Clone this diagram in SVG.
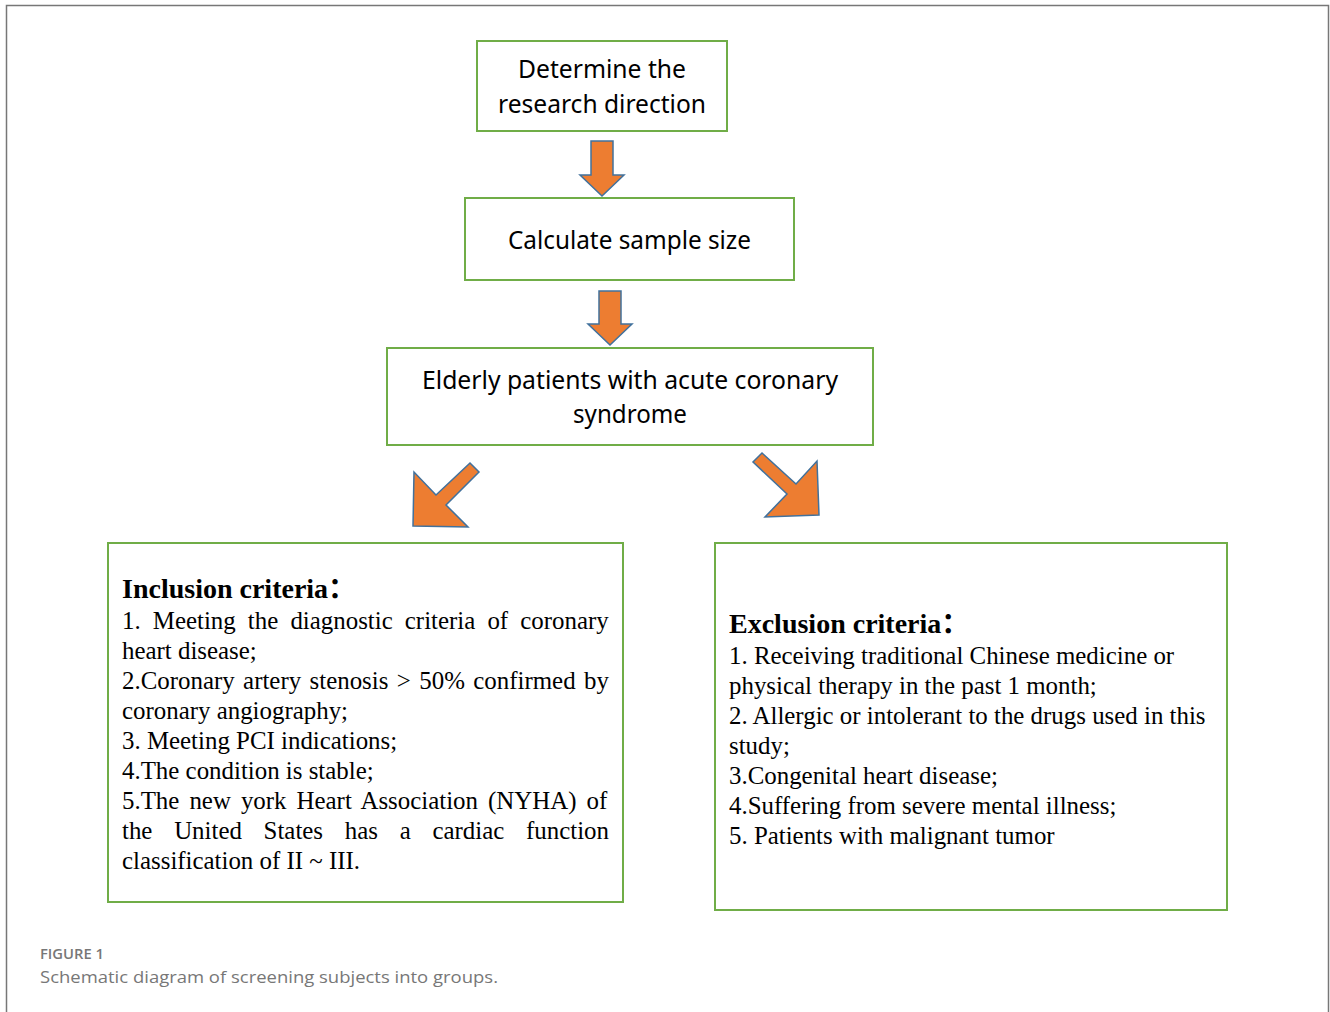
<svg xmlns="http://www.w3.org/2000/svg" width="1330" height="1012" viewBox="0 0 1330 1012">
<style>
.box{fill:#fff;stroke:#70ad47;stroke-width:2}
.sans{font-family:"Noto Sans","Open Sans",sans-serif;font-size:25px;fill:#000}
.ser{font-family:"Liberation Serif","Times New Roman",serif;font-size:24.9px;fill:#000}
.ttl{font-family:"Liberation Serif","Times New Roman","Noto Sans CJK SC",serif;font-size:28px;font-weight:bold;fill:#000}
.arr{fill:#ed7d31;stroke:#41719c;stroke-width:1.5;stroke-linejoin:miter}
.cap1{font-family:"Open Sans","Noto Sans",sans-serif;font-size:14px;font-weight:600;fill:#777}
.cap2{font-family:"Open Sans","Noto Sans",sans-serif;font-size:17px;fill:#777}
</style>
<rect width="1330" height="1012" fill="#fff"/>
<path d="M6.5 1012 V5.5 H1328.5 V1012" fill="none" stroke="#777" stroke-width="1.5"/>

<g id="n1">
<rect class="box" x="477" y="41" width="250" height="90"/>
<text class="sans" x="602" y="78" text-anchor="middle" textLength="168" lengthAdjust="spacingAndGlyphs">Determine the</text>
<text class="sans" x="602" y="113" text-anchor="middle" textLength="208" lengthAdjust="spacingAndGlyphs">research direction</text>
</g>
<g id="n2">
<rect class="box" x="465" y="198" width="329" height="82"/>
<text class="sans" x="629.5" y="249" text-anchor="middle" textLength="243" lengthAdjust="spacingAndGlyphs">Calculate sample size</text>
</g>
<g id="n3">
<rect class="box" x="387" y="348" width="486" height="97"/>
<text class="sans" x="630" y="389" text-anchor="middle" textLength="416" lengthAdjust="spacingAndGlyphs">Elderly patients with acute coronary</text>
<text class="sans" x="630" y="423" text-anchor="middle" textLength="114" lengthAdjust="spacingAndGlyphs">syndrome</text>
</g>
<g id="n4">
<rect class="box" x="108" y="543" width="515" height="359"/>
<text class="ttl" x="122" y="598">Inclusion criteria：</text>
<text class="ser" x="122" y="629" word-spacing="5.9">1. Meeting the diagnostic criteria of coronary</text>
<text class="ser" x="122" y="659">heart disease;</text>
<text class="ser" x="122" y="689" word-spacing="2.2">2.Coronary artery stenosis &gt; 50% confirmed by</text>
<text class="ser" x="122" y="719">coronary angiography;</text>
<text class="ser" x="122" y="749">3. Meeting PCI indications;</text>
<text class="ser" x="122" y="779">4.The condition is stable;</text>
<text class="ser" x="122" y="809" word-spacing="3.8">5.The new york Heart Association (NYHA) of</text>
<text class="ser" x="122" y="839" word-spacing="15.5">the United States has a cardiac function</text>
<text class="ser" x="122" y="869">classification of II ~ III.</text>
</g>
<g id="n5">
<rect class="box" x="715" y="543" width="512" height="367"/>
<text class="ttl" x="729" y="633">Exclusion criteria：</text>
<text class="ser" x="729" y="664">1. Receiving traditional Chinese medicine or</text>
<text class="ser" x="729" y="694">physical therapy in the past 1 month;</text>
<text class="ser" x="729" y="724">2. Allergic or intolerant to the drugs used in this</text>
<text class="ser" x="729" y="754">study;</text>
<text class="ser" x="729" y="784">3.Congenital heart disease;</text>
<text class="ser" x="729" y="814">4.Suffering from severe mental illness;</text>
<text class="ser" x="729" y="844">5. Patients with malignant tumor</text>
</g>

<g id="connectors">
<polygon class="arr" points="591,141 613,141 613,175 624,175 602,196 580,175 591,175"/>
<polygon class="arr" points="599,291 621,291 621,324 632,324 610,345 588,324 599,324"/>
<polygon class="arr" points="470,463 479,472 446,505 468,527 413,526 414,472 436,495"/>
<polygon class="arr" points="762,453 796,484 817,461 819,515 765,517 787,494 753,462"/>
</g>

<text class="cap1" x="40" y="959" textLength="64" lengthAdjust="spacingAndGlyphs">FIGURE 1</text>
<text class="cap2" x="40" y="983" textLength="458" lengthAdjust="spacingAndGlyphs">Schematic diagram of screening subjects into groups.</text>
</svg>
